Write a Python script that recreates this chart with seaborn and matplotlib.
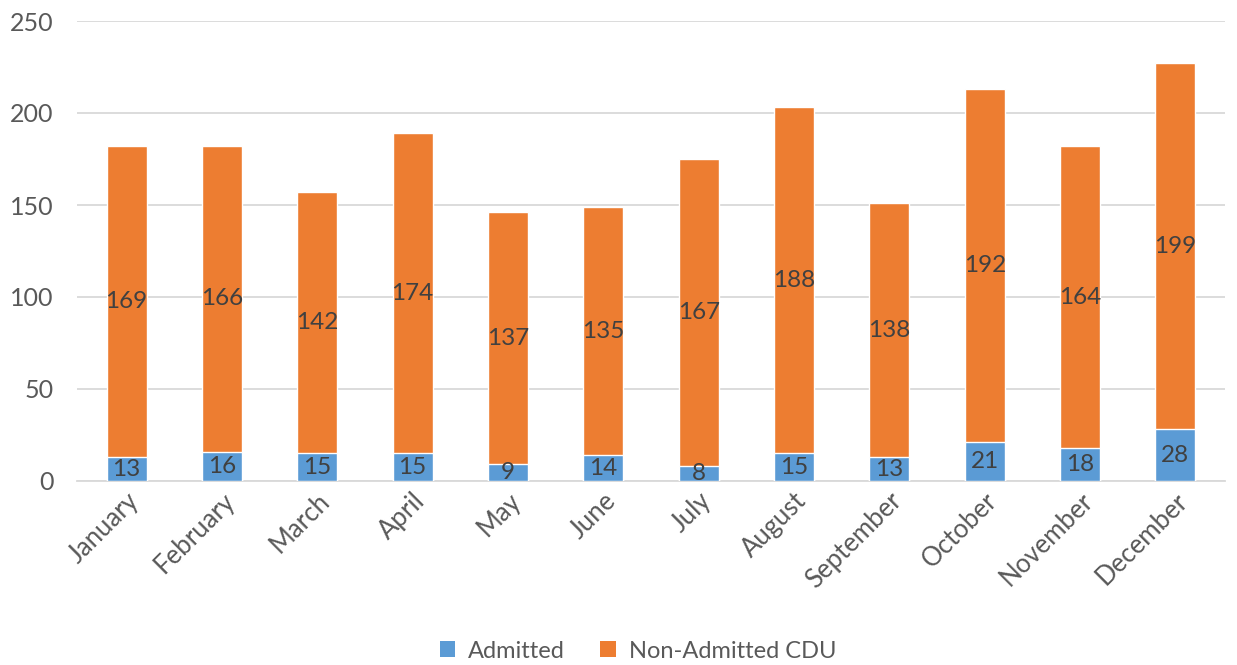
import matplotlib
matplotlib.use("Agg")
import matplotlib.pyplot as plt
from matplotlib.patches import Patch
import seaborn as sns
import pandas as pd

months = ["January", "February", "March", "April", "May", "June", "July",
          "August", "September", "October", "November", "December"]
admitted = [13, 16, 15, 15, 9, 14, 8, 15, 13, 21, 18, 28]
non_admitted = [169, 166, 142, 174, 137, 135, 167, 188, 138, 192, 164, 199]
yticks = [0, 50, 100, 150, 200, 250]

BLUE = "#5B9BD5"
ORANGE = "#ED7D31"
TXT = "#595959"
GRID = "#D9D9D9"

sns.set_theme(style="white")
plt.rcParams["font.family"] = ["Lato", "DejaVu Sans"]

totals = [a + n for a, n in zip(admitted, non_admitted)]
df = pd.DataFrame({"month": months, "admitted": admitted,
                   "non_admitted": non_admitted, "total": totals})

W, H = 1237, 665
fig = plt.figure(figsize=(W / 100, H / 100), dpi=100)
ax = fig.add_axes([77 / W, (H - 481) / H, (1225 - 77) / W, (481 - 21) / H])

sns.barplot(data=df, x="month", y="total", color=ORANGE, width=0.42,
            saturation=1, ax=ax, zorder=2)
sns.barplot(data=df, x="month", y="admitted", color=BLUE, width=0.42,
            saturation=1, ax=ax, zorder=3)

ax.set_xlim(-0.52, 11.52)
ax.set_ylim(0, 250)
ax.set_yticks(yticks)
ax.set_xlabel("")
ax.set_ylabel("")
ax.yaxis.grid(True, color=GRID, linewidth=1.3, zorder=0)
ax.set_axisbelow(True)
for s in ["top", "right", "left"]:
    ax.spines[s].set_visible(False)
ax.spines["bottom"].set_color(GRID)
ax.spines["bottom"].set_linewidth(1.3)
ax.spines["bottom"].set_zorder(1)

ax.tick_params(axis="y", length=0, pad=17, labelsize=18, labelcolor=TXT)
ax.tick_params(axis="x", length=0, pad=5, labelsize=18.5, labelcolor=TXT)
plt.setp(ax.get_xticklabels(), rotation=45, ha="right", rotation_mode="anchor")

for i, (a, n) in enumerate(zip(admitted, non_admitted)):
    ax.text(i, a / 2, str(a), ha="center", va="center", fontsize=17.5,
            color="#404040", zorder=5)
    ax.text(i, a + n / 2, str(n), ha="center", va="center", fontsize=17.5,
            color="#404040", zorder=5)

handles = [Patch(facecolor=BLUE, edgecolor="none", label="Admitted"),
           Patch(facecolor=ORANGE, edgecolor="none", label="Non-Admitted CDU")]
fig.legend(handles=handles, loc="center", bbox_to_anchor=(638 / W, 14 / H),
           ncol=2, frameon=False, fontsize=17, labelcolor=TXT,
           handlelength=0.65, handleheight=0.65, handletextpad=0.55,
           columnspacing=1.5)

fig.savefig("out.png", dpi=100)
